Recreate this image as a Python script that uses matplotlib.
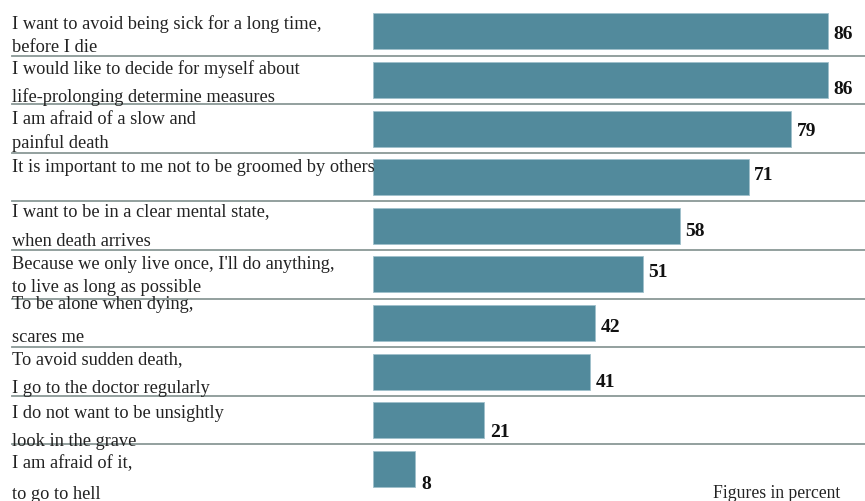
import numpy as np
import matplotlib.pyplot as plt
from matplotlib import transforms


# =====================================
# DATA
# =====================================

labels_line1 = [
    "I want to avoid being sick for a long time,",
    "I would like to decide for myself about",
    "I am afraid of a slow and",
    "It is important to me not to be groomed by others",
    "I want to be in a clear mental state,",
    "Because we only live once, I'll do anything,",
    "To be alone when dying,",
    "To avoid sudden death,",
    "I do not want to be unsightly",
    "I am afraid of it,",
]

labels_line2 = [
    "before I die",
    "life-prolonging determine measures",
    "painful death",
    "",
    "when death arrives",
    "to live as long as possible",
    "scares me",
    "I go to the doctor regularly",
    "look in the grave",
    "to go to hell",
]

values = [86, 86, 79, 71, 58, 51, 42, 41, 21, 8]

note = "Figures in percent"


# =====================================
# STYLE (pixel offsets)
# =====================================

W, H, DPI = 865, 502, 100
PITCH = 48.6          # px per row
ROW0 = 32.4           # px, centre of first bar
X0 = 373              # px, bar start
PX_PER_UNIT = (828 - 373) / 86.0

line1_off = [20.7, 17.3, 19, 18, 13.4, 17.6, 9, 15.7, 21, 22.6]
line2_gap = [23, 28.3, 23.7, 0, 30, 23.4, 33, 29.3, 28.4, 30.7]
value_off = [6.3, 13, 6.4, 1.8, 9.2, 1.3, 8, 14.4, 16.1, 19.5]

bar_color = "#528a9c"
sep_color = "#8a9896"

plt.rcParams["font.family"] = ["Liberation Serif", "DejaVu Serif"]


# =====================================
# Plot
# =====================================

fig = plt.figure(figsize=(W / DPI, H / DPI), dpi=DPI)
ax = fig.add_axes([0, 0, 1, 1])

ax.set_xlim(-X0 / PX_PER_UNIT, (W - X0) / PX_PER_UNIT)
ax.set_ylim((H - ROW0) / PITCH, -ROW0 / PITCH)
ax.axis("off")

n = len(values)
y = np.arange(n)

ax.barh(
    y,
    values,
    height=36 / PITCH,
    color=bar_color,
    edgecolor="#9fc0cb",
    linewidth=0.6,
)

# separators
for i in range(n - 1):
    ax.axhline(
        i + 0.5,
        xmin=12 / W,
        xmax=1,
        color=sep_color,
        linewidth=1.3,
    )

# labels at fixed x (axes fraction), y in data
trans = transforms.blended_transform_factory(ax.transAxes, ax.transData)

for i in range(n):
    top = i - 0.5
    b1 = top + line1_off[i] / PITCH
    ax.text(
        12 / W, b1, labels_line1[i],
        transform=trans,
        ha="left", va="baseline",
        fontsize=13.2, color="#222222",
    )
    if labels_line2[i]:
        b2 = b1 + line2_gap[i] / PITCH
        ax.text(
            12 / W, b2, labels_line2[i],
            transform=trans,
            ha="left", va="baseline",
            fontsize=13.2, color="#222222",
        )

# value labels
for i, v in enumerate(values):
    ax.annotate(
        str(v),
        xy=(v, i + value_off[i] / PITCH),
        xytext=(4, 0),
        textcoords="offset points",
        ha="left", va="baseline",
        fontsize=14, fontweight="bold", color="#111111",
    )

fig.text(
    713 / W, 1 - 498 / H, note,
    ha="left", va="baseline",
    fontsize=12.7, color="#222222",
)


# =====================================
# Save
# =====================================

fig.savefig("out.png", dpi=DPI)
